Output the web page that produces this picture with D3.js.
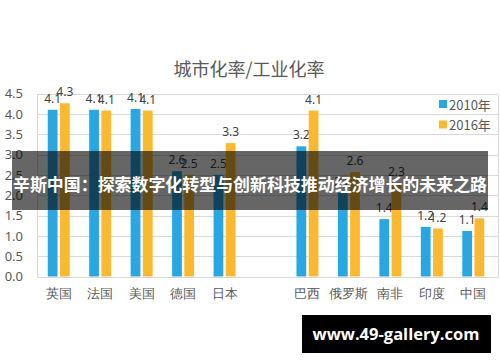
<!DOCTYPE html>
<html>
<head>
<meta charset="utf-8">
<script src="https://cdn.jsdelivr.net/npm/d3@7"></script>
<style>
  html, body { margin: 0; padding: 0; background: #fff; }
  svg { display: block; font-family: "Noto Sans CJK SC", "Noto Sans", sans-serif; }
</style>
</head>
<body>
<svg id="chart" width="500" height="362"></svg>
<script>
// 类别（中间空一格，分开发达国家和金砖国家）
const categories = ['英国', '法国', '美国', '德国', '日本', ' ', '巴西', '俄罗斯', '南非', '印度', '中国'];
const series = ['2010年', '2016年'];
const values2010 = [4.1, 4.1, 4.12, 2.59, 2.5, null, 3.2, 2.05, 1.41, 1.22, 1.12];
const values2016 = [4.26, 4.08, 4.08, 2.5, 3.28, null, 4.08, 2.57, 2.3, 1.18, 1.43];
const yTicks = [0, 0.5, 1, 1.5, 2, 2.5, 3, 3.5, 4, 4.5];
const colors = ['#27a8e5', '#fdb92e'];

const title = '城市化率/工业化率';
const banner = '辛斯中国：探索数字化转型与创新科技推动经济增长的未来之路';
const watermark = 'www.49-gallery.com';

const svg = d3.select('#chart');
const textColor = '#595959';
const gridColor = '#d9d9d9';

const x0 = d3.scaleBand().domain(categories).range([38, 494]).paddingInner(0.47).paddingOuter(0.235);
const x1 = d3.scaleBand().domain(series).range([0, x0.bandwidth()]).paddingInner(0.2);
const y = d3.scaleLinear().domain([0, 4.5]).range([276.5, 93.5]);

// 标题
svg
  .append('text')
  .text(title)
  .attr('x', 249)
  .attr('y', 76)
  .attr('text-anchor', 'middle')
  .attr('font-size', '18px')
  .attr('fill', textColor);

// 网格线
const grid = svg.append('g').attr('class', 'grid');
grid
  .selectAll('line')
  .data(yTicks)
  .join('line')
  .attr('x1', 37)
  .attr('x2', 498)
  .attr('y1', d => Math.round(y(d)) + 0.5)
  .attr('y2', d => Math.round(y(d)) + 0.5)
  .attr('stroke', gridColor);
grid
  .selectAll('.vline')
  .data([37, 498])
  .join('line')
  .attr('class', 'vline')
  .attr('x1', d => d + 0.5)
  .attr('x2', d => d + 0.5)
  .attr('y1', Math.round(y(4.5)) + 0.5)
  .attr('y2', Math.round(y(0)) + 0.5)
  .attr('stroke', gridColor);

// y 轴
const yAxis = svg
  .append('g')
  .attr('transform', 'translate(23,0)')
  .call(d3.axisLeft(y).tickValues(yTicks).tickFormat(d3.format('.1f')).tickSize(0).tickPadding(0));
yAxis.select('.domain').remove();
yAxis
  .selectAll('text')
  .attr('font-size', '13px')
  .attr('fill', textColor)
  .attr('font-family', '"Noto Sans", sans-serif');

// x 轴
const xAxis = svg
  .append('g')
  .attr('transform', `translate(0,${y(0)})`)
  .call(d3.axisBottom(x0).tickSize(0).tickPadding(12));
xAxis.select('.domain').remove();
xAxis
  .selectAll('text')
  .attr('font-size', '13px')
  .attr('fill', textColor);

// 柱子
const rows = categories.map((c, i) => ({ category: c, vals: [values2010[i], values2016[i]] }));
const groups = svg
  .append('g')
  .selectAll('.group')
  .data(rows)
  .join('g')
  .attr('class', 'group')
  .attr('transform', d => `translate(${x0(d.category)},0)`);

const bars = groups
  .selectAll('.bar')
  .data(d => d.vals.map((v, i) => ({ key: series[i], value: v, i })).filter(d => d.value != null))
  .join('g')
  .attr('class', 'bar');

bars
  .append('rect')
  .attr('x', d => x1(d.key))
  .attr('width', x1.bandwidth())
  .attr('y', d => y(d.value))
  .attr('height', d => y(0) - y(d.value))
  .attr('fill', d => colors[d.i]);

bars
  .append('text')
  .text(d => d3.format('.1f')(d.value))
  .attr('x', d => x1(d.key) + x1.bandwidth() / 2)
  .attr('y', d => y(d.value) - 7)
  .attr('text-anchor', 'middle')
  .attr('font-size', '12px')
  .attr('font-family', '"Noto Sans", sans-serif')
  .attr('fill', '#404040');

// 图例
const legend = svg
  .append('g')
  .selectAll('.legend')
  .data(series)
  .join('g')
  .attr('class', 'legend')
  .attr('transform', (d, i) => `translate(439,${100 + i * 20.5})`);
legend
  .append('rect')
  .attr('width', 8)
  .attr('height', 8)
  .attr('fill', (d, i) => colors[i]);
legend
  .append('text')
  .text(d => d)
  .attr('x', 10)
  .attr('y', 4)
  .attr('dominant-baseline', 'central')
  .attr('font-size', '13px')
  .attr('fill', textColor);

// 横幅遮罩
svg
  .append('rect')
  .attr('x', 12)
  .attr('y', 151)
  .attr('width', 476)
  .attr('height', 59)
  .attr('fill', '#000')
  .attr('fill-opacity', 0.6);
svg
  .append('text')
  .text(banner)
  .attr('x', 250)
  .attr('y', 183.5)
  .attr('text-anchor', 'middle')
  .attr('dominant-baseline', 'central')
  .attr('font-size', '17px')
  .attr('font-weight', 'bold')
  .attr('textLength', 474)
  .attr('lengthAdjust', 'spacingAndGlyphs')
  .attr('fill', '#fff');

// 水印
svg
  .append('rect')
  .attr('x', 302)
  .attr('y', 315)
  .attr('width', 189)
  .attr('height', 38)
  .attr('fill', '#000');
svg
  .append('text')
  .text(watermark)
  .attr('x', 396)
  .attr('y', 339.5)
  .attr('text-anchor', 'middle')
  .attr('font-family', '"Open Sans", sans-serif')
  .attr('font-weight', 'bold')
  .attr('font-size', '16px')
  .attr('textLength', 167)
  .attr('lengthAdjust', 'spacingAndGlyphs')
  .attr('fill', '#fff');
</script>
</body>
</html>
